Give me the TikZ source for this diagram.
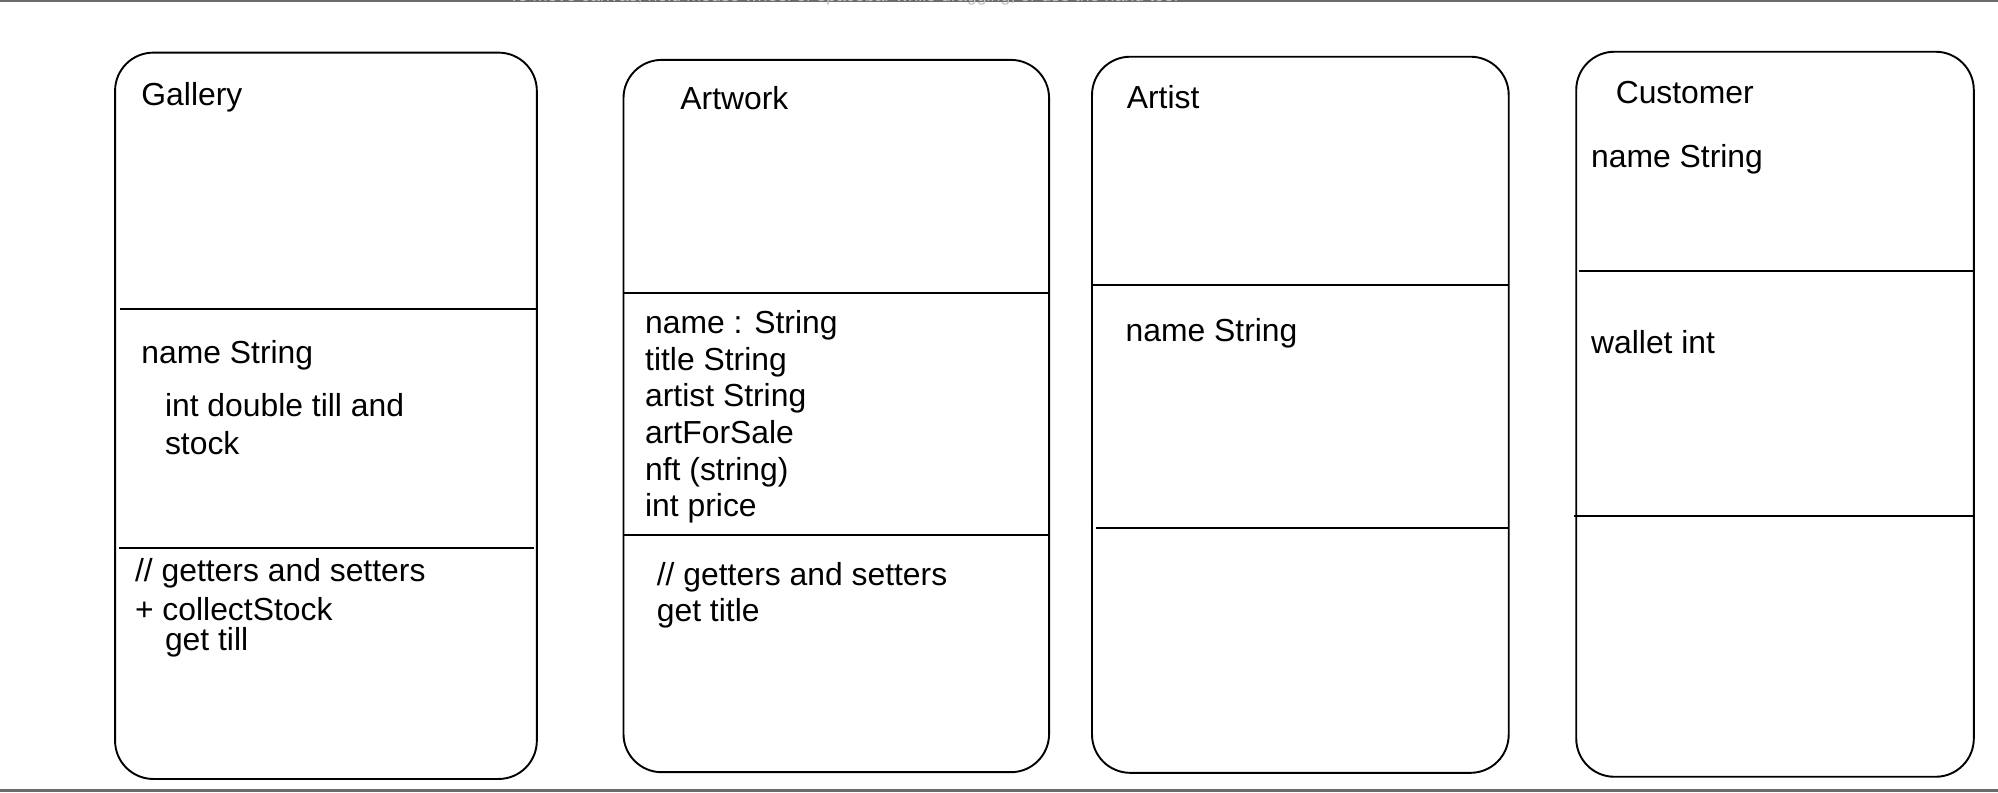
\documentclass[tikz,border=0pt]{standalone}
\usepackage{fontspec}
\setmainfont{Liberation Sans}
\begin{document}
\begin{tikzpicture}[x=1pt,y=-1pt,
  classbox/.style={draw=black, line width=1.5pt, rounded corners=30pt, inner sep=0pt, outer sep=0pt, anchor=north west},
  divline/.style={draw=black, line width=1.5pt},
  txt/.style={anchor=base west, inner sep=0pt, outer sep=0pt, font=\fontsize{25}{30}\selectfont},
  hint/.style={anchor=base, inner sep=0pt, text=black!25, font=\fontsize{14}{16}\selectfont},
  frameline/.style={draw=black!58, line width=1.7pt}]
\useasboundingbox (0,0) rectangle (1568,622);
\clip (0,0) rectangle (1568,622);
\fill[white] (0,0) rectangle (1568,622);

% screen frame lines and clipped hint text
\coordinate (tl) at (0,0.8);
\coordinate (tr) at (1568,0.8);
\coordinate (bl) at (0,620.3);
\coordinate (br) at (1568,620.3);
\draw[frameline] (tl) -- (tr);
\draw[frameline] (bl) -- (br);
\node[hint] (hinttext) at (662,1) {To move canvas, hold mouse wheel or spacebar while dragging, or use the hand tool};

% class boxes
\node[classbox, minimum width=331pt, minimum height=570pt] (gal) at (90.3,41.3) {};
\node[classbox, minimum width=334pt, minimum height=559pt] (art) at (489.3,47) {};
\node[classbox, minimum width=327pt, minimum height=562pt] (ast) at (857,44.5) {};
\node[classbox, minimum width=312pt, minimum height=569pt] (cus) at (1237,40.6) {};

% dividers
\draw[divline] ([xshift=4pt]gal.west |- 0,242.5) -- (gal.east |- 0,242.5);
\draw[divline] ([xshift=3pt]gal.west |- 0,430) -- ([xshift=-2pt]gal.east |- 0,430);
\draw[divline] (art.west |- 0,229.7) -- (art.east |- 0,229.7);
\draw[divline] (art.west |- 0,420) -- (art.east |- 0,420);
\draw[divline] (ast.west |- 0,223.7) -- (ast.east |- 0,223.7);
\draw[divline] ([xshift=3pt]ast.west |- 0,414.6) -- (ast.east |- 0,414.6);
\draw[divline] ([xshift=2pt]cus.west |- 0,212.7) -- (cus.east |- 0,212.7);
\draw[divline] ([xshift=-2pt]cus.west |- 0,405) -- ([xshift=1pt]cus.east |- 0,405);

% Gallery
\node[txt] (galT) at (111,82.4) {Gallery};
\node[txt] (galA1) at (111,285.2) {name String};
\node[txt] (galA2) at (129.5,327.1) {int double till and};
\node[txt] (galA3) at (129.5,356.4) {stock};
\node[txt] (galM1) at (106,456.6) {// getters and setters};
\node[txt] (galM2) at (106,486.7) {+ collectStock};
\node[txt] (galM3) at (129.5,510.2) {get till};

% Artwork
\node[txt] (artT) at (534,85.8) {Artwork};
\node[txt] (artA1) at (506.3,261.6) {name : String};
\node[txt] (artA2) at (506.3,290.4) {title String};
\node[txt] (artA3) at (506.3,319.2) {artist String};
\node[txt] (artA4) at (506.3,348) {artForSale};
\node[txt] (artA5) at (506.3,376.8) {nft (string)};
\node[txt] (artA6) at (506.3,405.6) {int price};
\node[txt] (artM1) at (515.5,459.2) {// getters and setters};
\node[txt] (artM2) at (515.5,488) {get title};

% Artist
\node[txt] (astT) at (884.3,85) {Artist};
\node[txt] (astA1) at (883.4,268.2) {name String};

% Customer
\node[txt] (cusT) at (1268,81.3) {Customer};
\node[txt] (cusA1) at (1248.7,131.6) {name String};
\node[txt] (cusA2) at (1248.7,277.3) {wallet int};
\end{tikzpicture}
\end{document}
